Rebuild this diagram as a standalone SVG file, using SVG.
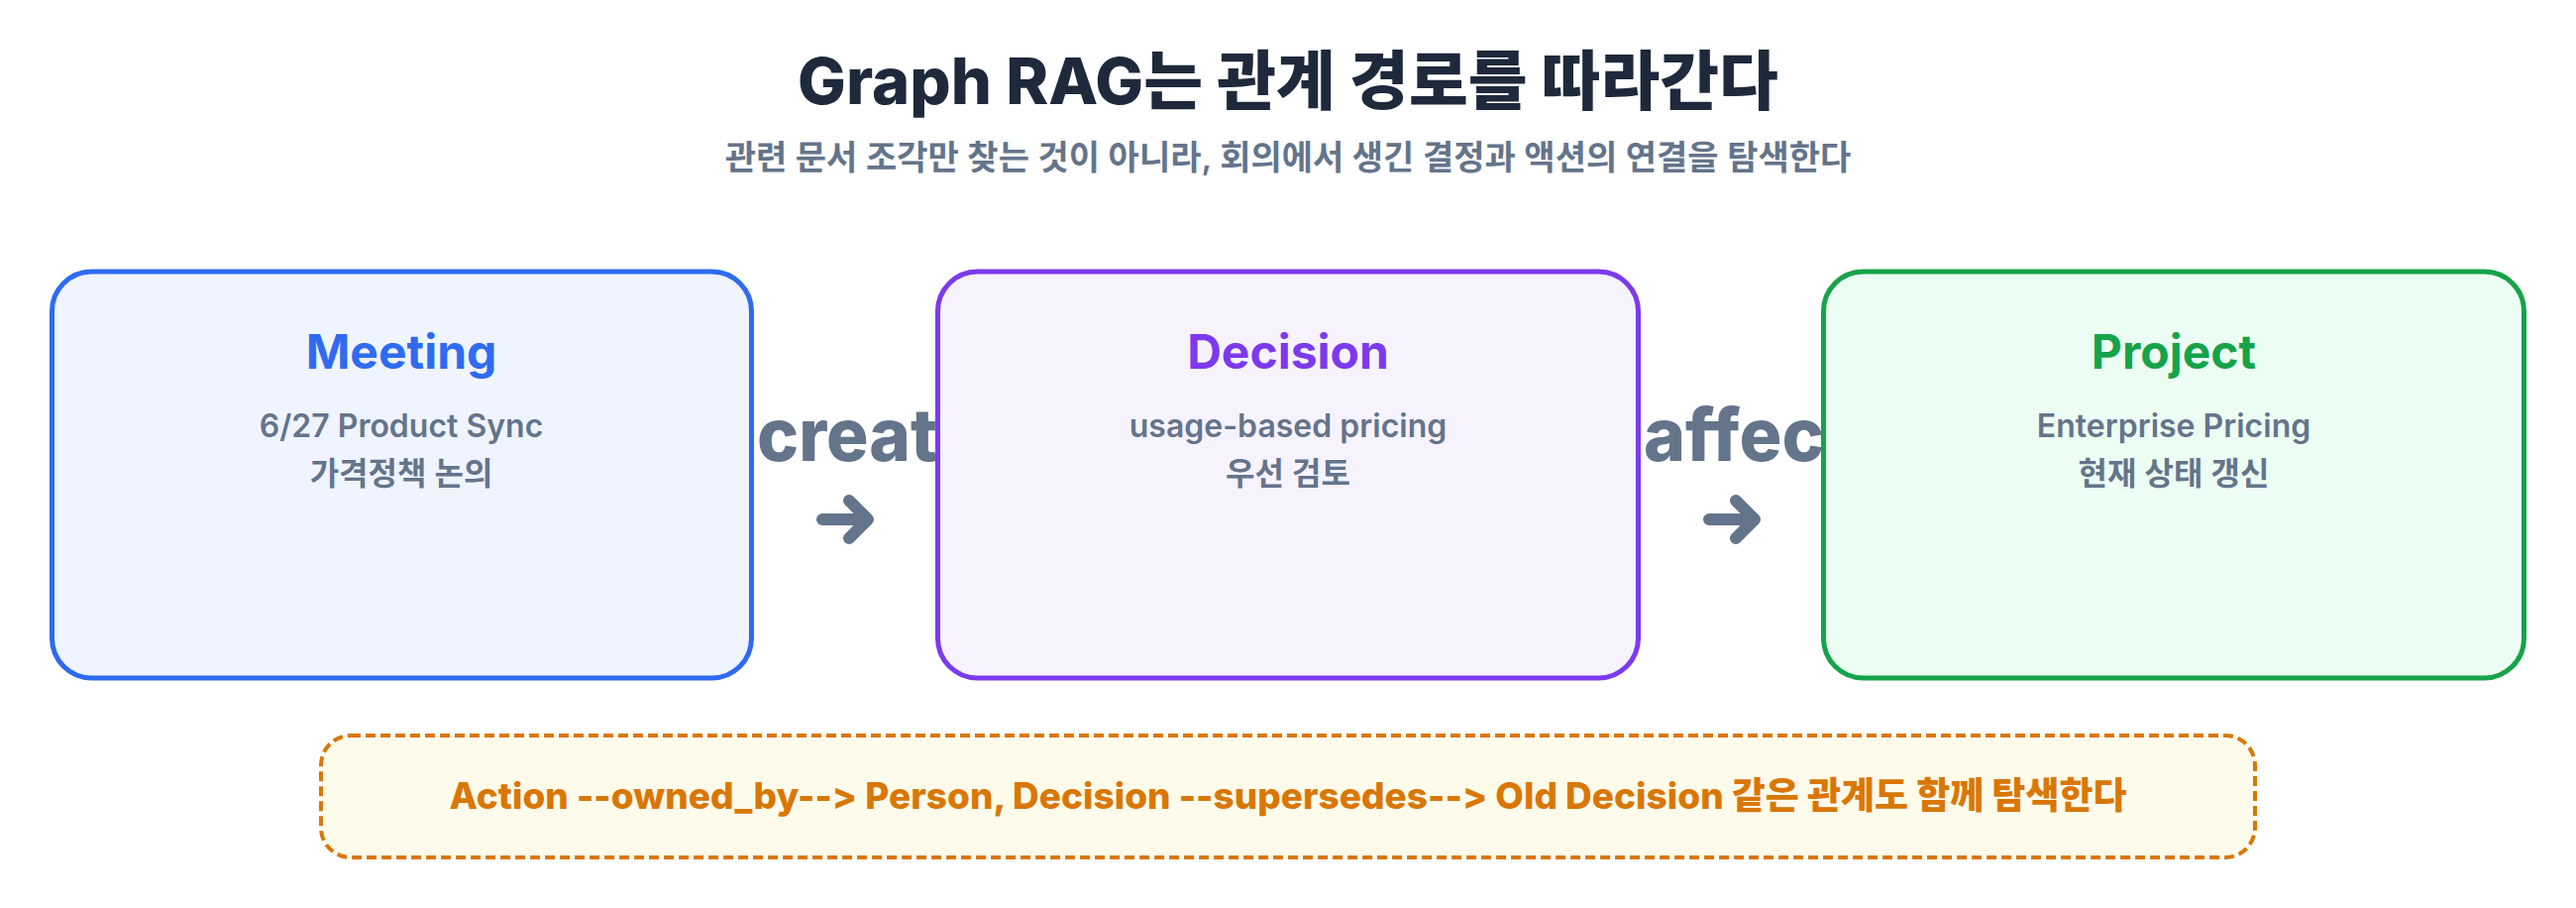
<svg xmlns="http://www.w3.org/2000/svg" width="2600" height="916" viewBox="0 0 2600 916">
  <style>
    text { font-family: Inter, "Noto Sans CJK KR", sans-serif; text-anchor: middle; font-feature-settings: "calt" 0, "liga" 0; font-variant-ligatures: none; }
    .title { font-size: 65px; font-weight: 800; fill: #1e293b; }
    .subtitle { font-size: 34px; font-weight: 600; fill: #64748b; }
    .node-rect { stroke-width: 5; }
    .node-title { font-size: 48px; font-weight: 700; }
    .node-sub { font-size: 32px; font-weight: 600; fill: #64748b; }
    .edge-label { font-size: 74px; font-weight: 800; fill: #64748b; text-anchor: start; }
    .arrow { fill: none; stroke: #64748b; stroke-width: 12; stroke-linecap: round; stroke-linejoin: round; }
    .note-rect { fill: #fffbeb; stroke: #d97706; stroke-width: 4; stroke-dasharray: 10 5; }
    .note-text { font-size: 37px; font-weight: 800; fill: #d97706; }
  </style>
  <rect width="2600" height="916" fill="#ffffff"/>

  <g id="header">
    <text class="title" x="1300" y="105">Graph RAG는 관계 경로를 따라간다</text>
    <text class="subtitle" x="1300" y="171">관련 문서 조각만 찾는 것이 아니라, 회의에서 생긴 결정과 액션의 연결을 탐색한다</text>
  </g>

  <g id="connectors">
    <text class="edge-label" x="764" y="465" textLength="182" lengthAdjust="spacingAndGlyphs">creat</text>
    <path class="arrow" d="M830 524 H874 M857 505 L876 524 L857 543"/>
    <text class="edge-label" x="1659" y="465" textLength="182" lengthAdjust="spacingAndGlyphs">affec</text>
    <path class="arrow" d="M1725 524 H1769 M1752 505 L1771 524 L1752 543"/>
  </g>

  <g id="node-meeting">
    <rect class="node-rect" x="52.5" y="274" width="706" height="410" rx="40" fill="#eff4ff" stroke="#2f6bf0"/>
    <text class="node-title" x="405" y="372" fill="#2f6bf0">Meeting</text>
    <text class="node-sub" x="405" y="441">6/27 Product Sync</text>
    <text class="node-sub" x="405" y="489">가격정책 논의</text>
  </g>

  <g id="node-decision">
    <rect class="node-rect" x="946.5" y="274" width="707" height="410" rx="40" fill="#f6f3ff" stroke="#7c3aed"/>
    <text class="node-title" x="1300" y="372" fill="#7c3aed">Decision</text>
    <text class="node-sub" x="1300" y="441">usage-based pricing</text>
    <text class="node-sub" x="1300" y="489">우선 검토</text>
  </g>

  <g id="node-project">
    <rect class="node-rect" x="1840.5" y="274" width="707" height="410" rx="40" fill="#ecfdf3" stroke="#16a34a"/>
    <text class="node-title" x="2194" y="372" fill="#16a34a">Project</text>
    <text class="node-sub" x="2194" y="441">Enterprise Pricing</text>
    <text class="node-sub" x="2194" y="489">현재 상태 갱신</text>
  </g>

  <g id="note">
    <rect class="note-rect" x="324" y="742" width="1952" height="123" rx="30"/>
    <text class="note-text" x="1300" y="816">Action --owned_by--&gt; Person, Decision --supersedes--&gt; Old Decision 같은 관계도 함께 탐색한다</text>
  </g>
</svg>
